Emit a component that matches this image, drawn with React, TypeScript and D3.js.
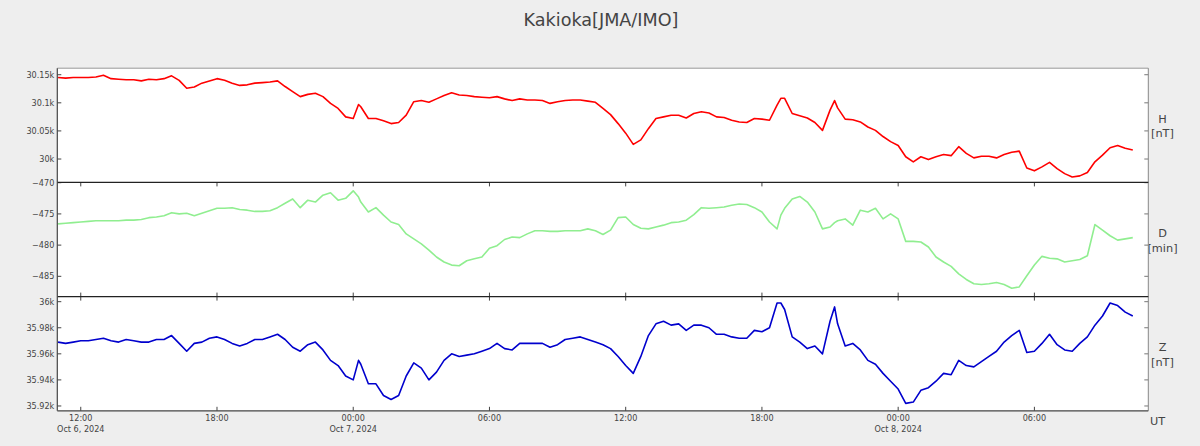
import * as d3 from 'd3'

// Kakioka geomagnetic components, one sample every 20 min from the start time
const START = '2024-10-06T11:00:00Z'
const STEP_MINUTES = 20

const H_NT = [
  30145, 30144, 30145, 30145, 30145, 30146, 30149, 30143, 30142, 30141,
  30141, 30139, 30142, 30141, 30143, 30148, 30140, 30126, 30128, 30135,
  30139, 30143, 30140, 30135, 30131, 30132, 30135, 30136, 30137, 30139,
  30129, 30120, 30111, 30115, 30117, 30111, 30099, 30090, 30075, 30072,
  30093, 30072, 30072, 30068, 30063, 30065, 30078, 30102, 30104, 30101,
  30107, 30113, 30118, 30114, 30113, 30111, 30110, 30109, 30111, 30107,
  30104, 30107, 30105, 30105, 30104, 30099, 30102, 30104, 30105, 30105,
  30103, 30101, 30090, 30079, 30063, 30046, 30026, 30034, 30054, 30072,
  30075, 30078, 30078, 30073, 30081, 30084, 30082, 30075, 30074, 30069,
  30066, 30065, 30072, 30071, 30069, 30096, 30108, 30081, 30077, 30073,
  30065, 30051, 30087, 30091, 30071, 30070, 30066, 30057, 30051, 30040,
  30031, 30024, 30004, 29995, 30004, 29999, 30004, 30008, 30006, 30022,
  30010, 30002, 30005, 30005, 30002, 30008, 30012, 30014, 29984, 29979,
  29986, 29994, 29983, 29974, 29968, 29970, 29976, 29995, 30007, 30020,
  30024, 30019, 30016,
]

const D_MIN = [
  -476.6, -476.5, -476.4, -476.3, -476.2, -476.1, -476.1, -476.1, -476.1, -476.0,
  -476.0, -475.9, -475.6, -475.5, -475.3, -474.8, -475.0, -474.9, -475.3, -474.9,
  -474.5, -474.1, -474.1, -474.0, -474.3, -474.4, -474.6, -474.6, -474.5, -474.0,
  -473.3, -472.6, -474.0, -472.8, -473.1, -472.0, -471.6, -472.8, -472.5, -471.3,
  -473.1, -474.7, -474.0, -475.2, -476.3, -476.7, -478.2, -479.0, -479.8, -480.8,
  -481.9, -482.7, -483.2, -483.3, -482.5, -482.2, -481.9, -480.5, -480.1, -479.1,
  -478.7, -478.8, -478.2, -477.7, -477.7, -477.8, -477.8, -477.7, -477.7, -477.7,
  -477.4, -477.7, -478.3, -477.6, -475.6, -475.5, -476.7, -477.3, -477.4, -477.1,
  -476.8, -476.4, -476.3, -476.0, -475.1, -474.0, -474.1, -474.0, -473.9, -473.6,
  -473.4, -473.5, -474.0, -474.7, -476.3, -477.4, -474.1, -472.6, -472.2, -473.1,
  -474.7, -477.4, -477.1, -476.1, -475.8, -476.8, -474.4, -474.7, -474.1, -475.8,
  -475.0, -475.8, -479.4, -479.4, -479.5, -480.3, -481.9, -482.7, -483.4, -484.6,
  -485.5, -486.2, -486.3, -486.2, -486.0, -486.3, -486.9, -486.7, -484.9, -483.2,
  -481.8, -482.1, -482.2, -482.7, -482.5, -482.3, -481.7, -476.7, -477.6, -478.5,
  -479.2, -479.0, -478.8,
]

const Z_NT = [
  35969, 35968, 35969, 35970, 35970, 35971, 35972, 35970, 35969, 35971,
  35970, 35969, 35969, 35971, 35971, 35974, 35968, 35962, 35968, 35969,
  35972, 35973, 35971, 35968, 35966, 35968, 35971, 35971, 35973, 35975,
  35971, 35965, 35962, 35967, 35969, 35963, 35955, 35951, 35943, 35940,
  35952, 35937, 35937, 35928, 35925, 35928, 35943, 35953, 35949, 35940,
  35946, 35955, 35960, 35958, 35959, 35960, 35962, 35964, 35968, 35964,
  35963, 35968, 35968, 35968, 35968, 35965, 35967, 35971, 35972, 35973,
  35971, 35969, 35967, 35964, 35958, 35951, 35945, 35958, 35974, 35983,
  35985, 35982, 35983, 35978, 35982, 35982, 35980, 35975, 35975, 35973,
  35972, 35972, 35978, 35977, 35980, 35999, 35994, 35973, 35969, 35964,
  35966, 35960, 35985, 35983, 35966, 35968, 35963, 35955, 35952, 35945,
  35939, 35933, 35922, 35923, 35932, 35934, 35939, 35945, 35944, 35955,
  35951, 35950, 35954, 35958, 35962, 35969, 35974, 35978, 35961, 35962,
  35968, 35975, 35967, 35963, 35962, 35968, 35973, 35982, 35989, 35999,
  35997, 35992, 35989,
]

// short spikes that fall between the regular samples
const EXTRA_TIMES = ['2024-10-07T00:14:00Z', '2024-10-07T18:50:00Z', '2024-10-07T21:12:00Z']
const H_EXTRA = [30097, 30108, 30104]
const D_EXTRA = [-472.3, -475.2, -476.4]
const Z_EXTRA = [35955, 35999, 35996]

const X_DOMAIN = ['2024-10-06T10:58:00Z', '2024-10-08T11:01:00Z']
const X_TICKS = [
  '2024-10-06T12:00:00Z', '2024-10-06T18:00:00Z', '2024-10-07T00:00:00Z', '2024-10-07T06:00:00Z',
  '2024-10-07T12:00:00Z', '2024-10-07T18:00:00Z', '2024-10-08T00:00:00Z', '2024-10-08T06:00:00Z',
]
const X_TICK_LABELS = [
  ['12:00', 'Oct 6, 2024'], ['18:00'], ['00:00', 'Oct 7, 2024'], ['06:00'],
  ['12:00'], ['18:00'], ['00:00', 'Oct 8, 2024'], ['06:00'],
]

const H_DOMAIN = [29958.4, 30161.6]
const H_TICKS = [30000, 30050, 30100, 30150]
const H_TICK_LABELS = ['30k', '30.05k', '30.1k', '30.15k']

const D_DOMAIN = [-488.25, -469.95]
const D_TICKS = [-485, -480, -475, -470]
const D_TICK_LABELS = ['\u2212485', '\u2212480', '\u2212475', '\u2212470']

const Z_DOMAIN = [35916.3, 36003.9]
const Z_TICKS = [35920, 35940, 35960, 35980, 36000]
const Z_TICK_LABELS = ['35.92k', '35.94k', '35.96k', '35.98k', '36k']

const FONT = '"DejaVu Sans", Verdana, sans-serif'
const INK = '#444'

type Pt = { t: Date; v: number }

function buildSeries(values: number[], extras: number[]): Pt[] {
  const t0 = new Date(START).getTime()
  const pts: Pt[] = values.map((v, i) => ({ t: new Date(t0 + i * STEP_MINUTES * 60000), v }))
  EXTRA_TIMES.forEach((s, i) => pts.push({ t: new Date(s), v: extras[i] }))
  return pts.sort((a, b) => a.t.getTime() - b.t.getTime())
}

export default function App() {
  const width = 1200
  const height = 446
  const left = 57.3
  const right = 1148.3
  const top = 68.2
  const panelH = 114.2

  const x = d3.scaleUtc()
    .domain(X_DOMAIN.map(s => new Date(s)))
    .range([left, right])

  const panels = [
    { key: 'H', unit: '[nT]', color: '#ff0000', domain: H_DOMAIN, ticks: H_TICKS, labels: H_TICK_LABELS, data: buildSeries(H_NT, H_EXTRA), xTicks: false },
    { key: 'D', unit: '[min]', color: '#90ee90', domain: D_DOMAIN, ticks: D_TICKS, labels: D_TICK_LABELS, data: buildSeries(D_MIN, D_EXTRA), xTicks: true },
    { key: 'Z', unit: '[nT]', color: '#0000cd', domain: Z_DOMAIN, ticks: Z_TICKS, labels: Z_TICK_LABELS, data: buildSeries(Z_NT, Z_EXTRA), xTicks: true },
  ]

  const bottom = top + panelH * panels.length

  return (
    <div style={{ position: 'absolute', left: 0, top: 0 }}>
      <svg width={width} height={height} style={{ display: 'block' }} fontFamily={FONT}>
        <rect width={width} height={height} fill="#eeeeee" />

        <text x={601} y={26} textAnchor="middle" fontSize={17.6} fill={INK}>Kakioka[JMA/IMO]</text>

        <defs>
          {panels.map((p, i) => (
            <clipPath id={`clip-${p.key}`} key={p.key}>
              <rect x={left} y={top + i * panelH} width={right - left} height={panelH} />
            </clipPath>
          ))}
        </defs>

        {panels.map((p, i) => {
          const y0 = top + i * panelH
          const y1 = y0 + panelH
          const y = d3.scaleLinear().domain(p.domain).range([y1, y0])
          const line = d3.line<Pt>().x(d => x(d.t)).y(d => y(d.v))
          const mid = (y0 + y1) / 2
          return (
            <g key={p.key}>
              <rect x={left} y={y0} width={right - left} height={panelH} fill="#fff" />
              <path d={line(p.data) ?? ''} fill="none" stroke={p.color} strokeWidth={1.6}
                strokeLinejoin="round" clipPath={`url(#clip-${p.key})`} />

              {p.ticks.map((tv, j) => (
                <g key={tv}>
                  <line x1={left} x2={left + 4} y1={y(tv)} y2={y(tv)} stroke={INK} />
                  <line x1={right - 4} x2={right} y1={y(tv)} y2={y(tv)} stroke="#777" />
                  <text x={left - 3} y={y(tv)} dy="0.35em" textAnchor="end" fontSize={8.1} fill={INK}>
                    {p.labels[j]}
                  </text>
                </g>
              ))}

              {p.xTicks && X_TICKS.map(s => {
                const tx = x(new Date(s))
                return (
                  <g key={s}>
                    <line x1={tx} x2={tx} y1={y0} y2={y0 + 4} stroke={INK} />
                    <line x1={tx} x2={tx} y1={y1 - 4} y2={y1} stroke={INK} />
                  </g>
                )
              })}

              <text x={1162.5} y={mid - 2.7} textAnchor="middle" fontSize={11.3} fill={INK}>{p.key}</text>
              <text x={1162.5} y={mid + 12} textAnchor="middle" fontSize={11.3} fill={INK}>{p.unit}</text>
            </g>
          )
        })}

        {/* frame */}
        <line x1={left} x2={right} y1={top} y2={top} stroke="#999" strokeWidth={1} />
        <line x1={right} x2={right} y1={top} y2={bottom} stroke="#888" strokeWidth={1} />
        {panels.slice(1).map((p, i) => (
          <line key={p.key} x1={left} x2={right} y1={top + (i + 1) * panelH} y2={top + (i + 1) * panelH}
            stroke="#222" strokeWidth={1.4} />
        ))}
        <line x1={left} x2={right} y1={bottom} y2={bottom} stroke={INK} strokeWidth={1.2} />
        <line x1={left} x2={left} y1={top} y2={bottom} stroke={INK} strokeWidth={1.2} />

        {X_TICKS.map((s, i) => {
          const tx = x(new Date(s))
          return (
            <text key={s} textAnchor="middle" fontSize={8.1} fill={INK}>
              {X_TICK_LABELS[i].map((l, k) => (
                <tspan key={k} x={tx} y={421 + k * 10.5}>{l}</tspan>
              ))}
            </text>
          )
        })}

        <text x={1150} y={424.5} fontSize={11.3} fill={INK}>UT</text>
      </svg>
    </div>
  )
}
